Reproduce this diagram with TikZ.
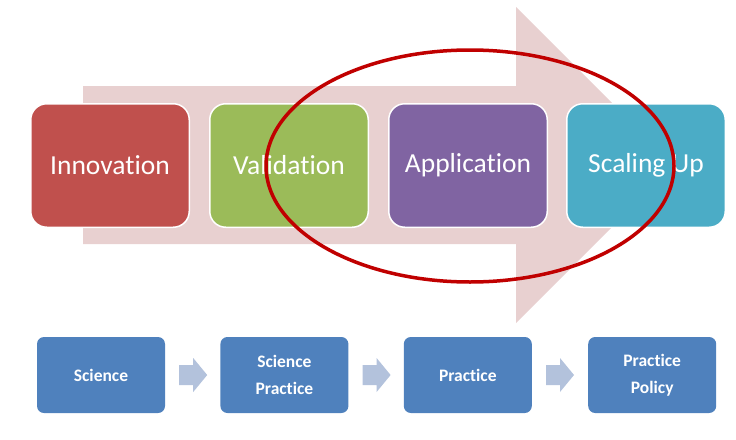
\documentclass[tikz,border=0pt]{standalone}
\usepackage{fontspec}
\setmainfont{Carlito}[Ligatures=NoCommon]
\usepackage{tikz}
\usetikzlibrary{positioning, calc}
\definecolor{innovred}{HTML}{C0504D}
\definecolor{validgreen}{HTML}{9BBB59}
\definecolor{applpurple}{HTML}{8064A2}
\definecolor{scaleteal}{HTML}{4BACC6}
\definecolor{flowpink}{HTML}{E8D0D0}
\definecolor{ringred}{HTML}{C00000}
\definecolor{stageblue}{HTML}{4F81BD}
\definecolor{stepgrey}{HTML}{B3C2DC}
\tikzset{phase/.style={rectangle,draw=white,line width=1.5pt,rounded corners=16pt,minimum width=158.5pt,minimum height=123.5pt,text=white,font=\fontsize{27.5}{32}\selectfont,inner sep=0pt},
         stage/.style={rectangle,fill=stageblue,rounded corners=7pt,minimum width=128pt,minimum height=76pt,text=white,align=center,font=\fontsize{17.5}{27}\selectfont\bfseries,inner sep=0pt},
         flow/.style={fill=flowpink},
         ring/.style={draw=ringred,line width=3.5pt},
         stepper/.style={fill=stepgrey}}

\begin{document}
\begin{tikzpicture}[x=1pt,y=-1pt]
    \useasboundingbox (0,0) rectangle (736,439);
    % Background arrow
    \fill[flow] (83,86) -- (516,86) -- (516,7) -- (674,165) -- (516,323) -- (516,244) -- (83,244) -- cycle;
    % Phases
    \node (innov) at (110,165.5) [phase,fill=innovred]{Innovation};
    \node (valid) [phase,fill=validgreen,right=19pt of innov]{Validation};
    \node (appl) [phase,fill=applpurple,right=19pt of valid]{Application};
    \node (scale) [phase,fill=scaleteal,right=18pt of appl]{Scaling Up};
    % Highlight
    \draw[ring] (470,166) ellipse [x radius=204, y radius=116];
    % Stages
    \node (sci) at (101,375) [stage]{Science};
    \node (scipr) [stage,right=55pt of sci]{Science\\Practice};
    \node (pract) [stage,right=55pt of scipr]{Practice};
    \node (prpol) [stage,right=56pt of pract]{Practice\\Policy};
    % Steps
    \foreach \a/\b in {sci/scipr, scipr/pract, pract/prpol}
        \fill[stepper] ($(\a.east)+(14,-10)$) -- ++(14,0) -- ++(0,-7) -- ++(14,17) -- ++(-14,17) -- ++(0,-7) -- ++(-14,0) -- cycle;
\end{tikzpicture}
\end{document}
